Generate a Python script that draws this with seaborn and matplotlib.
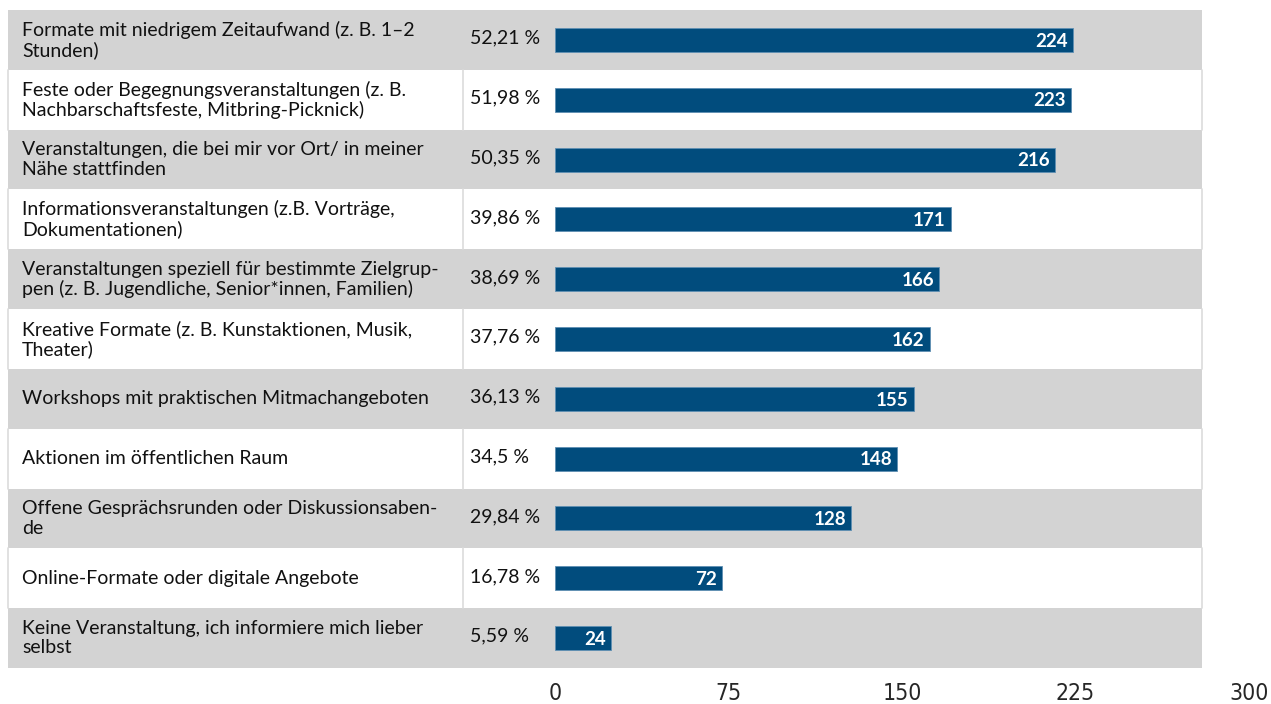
import numpy as np
import pandas as pd
import matplotlib
matplotlib.use("Agg")
import matplotlib.pyplot as plt
import seaborn as sns

labels = [
    "Formate mit niedrigem Zeitaufwand (z. B. 1–2\nStunden)",
    "Feste oder Begegnungsveranstaltungen (z. B.\nNachbarschaftsfeste, Mitbring-Picknick)",
    "Veranstaltungen, die bei mir vor Ort/ in meiner\nNähe stattfinden",
    "Informationsveranstaltungen (z.B. Vorträge,\nDokumentationen)",
    "Veranstaltungen speziell für bestimmte Zielgrup-\npen (z. B. Jugendliche, Senior*innen, Familien)",
    "Kreative Formate (z. B. Kunstaktionen, Musik,\nTheater)",
    "Workshops mit praktischen Mitmachangeboten",
    "Aktionen im öffentlichen Raum",
    "Offene Gesprächsrunden oder Diskussionsaben-\nde",
    "Online-Formate oder digitale Angebote",
    "Keine Veranstaltung, ich informiere mich lieber\nselbst",
]
counts = [224, 223, 216, 171, 166, 162, 155, 148, 128, 72, 24]
percents = ["52,21 %", "51,98 %", "50,35 %", "39,86 %", "38,69 %", "37,76 %",
            "36,13 %", "34,5 %", "29,84 %", "16,78 %", "5,59 %"]
ticks = [0, 75, 150, 225, 300]

BAR = "#014c7d"
GRAY = "#d3d3d3"
LINE = "#dcdcdc"
LABEL_FONT = ["Lato", "DejaVu Sans"]
TICK_FONT = ["Liberation Sans Narrow", "DejaVu Sans"]

df = pd.DataFrame({"label": labels, "count": counts, "pct": percents})

sns.set_theme(style="white")
W, H = 1271, 704
fig = plt.figure(figsize=(W / 100, H / 100), dpi=100)
# axes: x=0 at px 555, x=300 at px 1249; rows from px 10 to 668
ax = fig.add_axes([555 / W, 1 - 668 / H, (1249 - 555) / W, (668 - 10) / H])

sns.barplot(data=df, x="count", y="label", orient="h", color=BAR, width=0.4,
            edgecolor="#5f8fb3", linewidth=0.6, saturation=1, ax=ax, zorder=3)
ax.set_xlim(0, 300)
ax.set_ylim(len(df) - 0.5, -0.5)

px = 694 / 300.0  # pixels per unit
x_left = (8 - 555) / 694
x_sep = (463 - 555) / 694
x_right = (1202 - 555) / 694
for i in range(len(df)):
    fc = GRAY if i % 2 == 0 else "white"
    ax.axhspan(i - 0.5, i + 0.5, xmin=x_left, xmax=x_right, color=fc,
               clip_on=False, zorder=0, lw=0)
    if i % 2 == 1:
        for xx in (x_left, x_sep, x_right):
            ax.plot([xx, xx], [i - 0.5, i + 0.5], color=LINE, lw=1.2,
                    transform=ax.get_yaxis_transform(), clip_on=False, zorder=1)

for i, r in df.iterrows():
    ax.text((22 - 555) / px, i, r["label"], ha="left", va="center", fontsize=14,
            family=LABEL_FONT, color="#111111", linespacing=1.15, clip_on=False)
    ax.text((470 - 555) / px, i - 0.03, r["pct"], ha="left", va="center", fontsize=14,
            family=LABEL_FONT, color="#111111", clip_on=False)
    ax.text(r["count"] - 5 / px, i + 0.02, str(r["count"]), ha="right", va="center",
            fontsize=13.5, family=LABEL_FONT, color="white", fontweight="bold", zorder=4)

ax.set_xticks(ticks)
ax.set_xticklabels([str(t) for t in ticks], family=TICK_FONT, fontsize=16.5,
                   fontstretch="condensed")
ax.tick_params(axis="x", length=0, pad=10)
ax.set_yticks([])
ax.set_xlabel("")
ax.set_ylabel("")
sns.despine(ax=ax, left=True, bottom=True)
ax.patch.set_alpha(0)

fig.savefig("out.png", dpi=100)
